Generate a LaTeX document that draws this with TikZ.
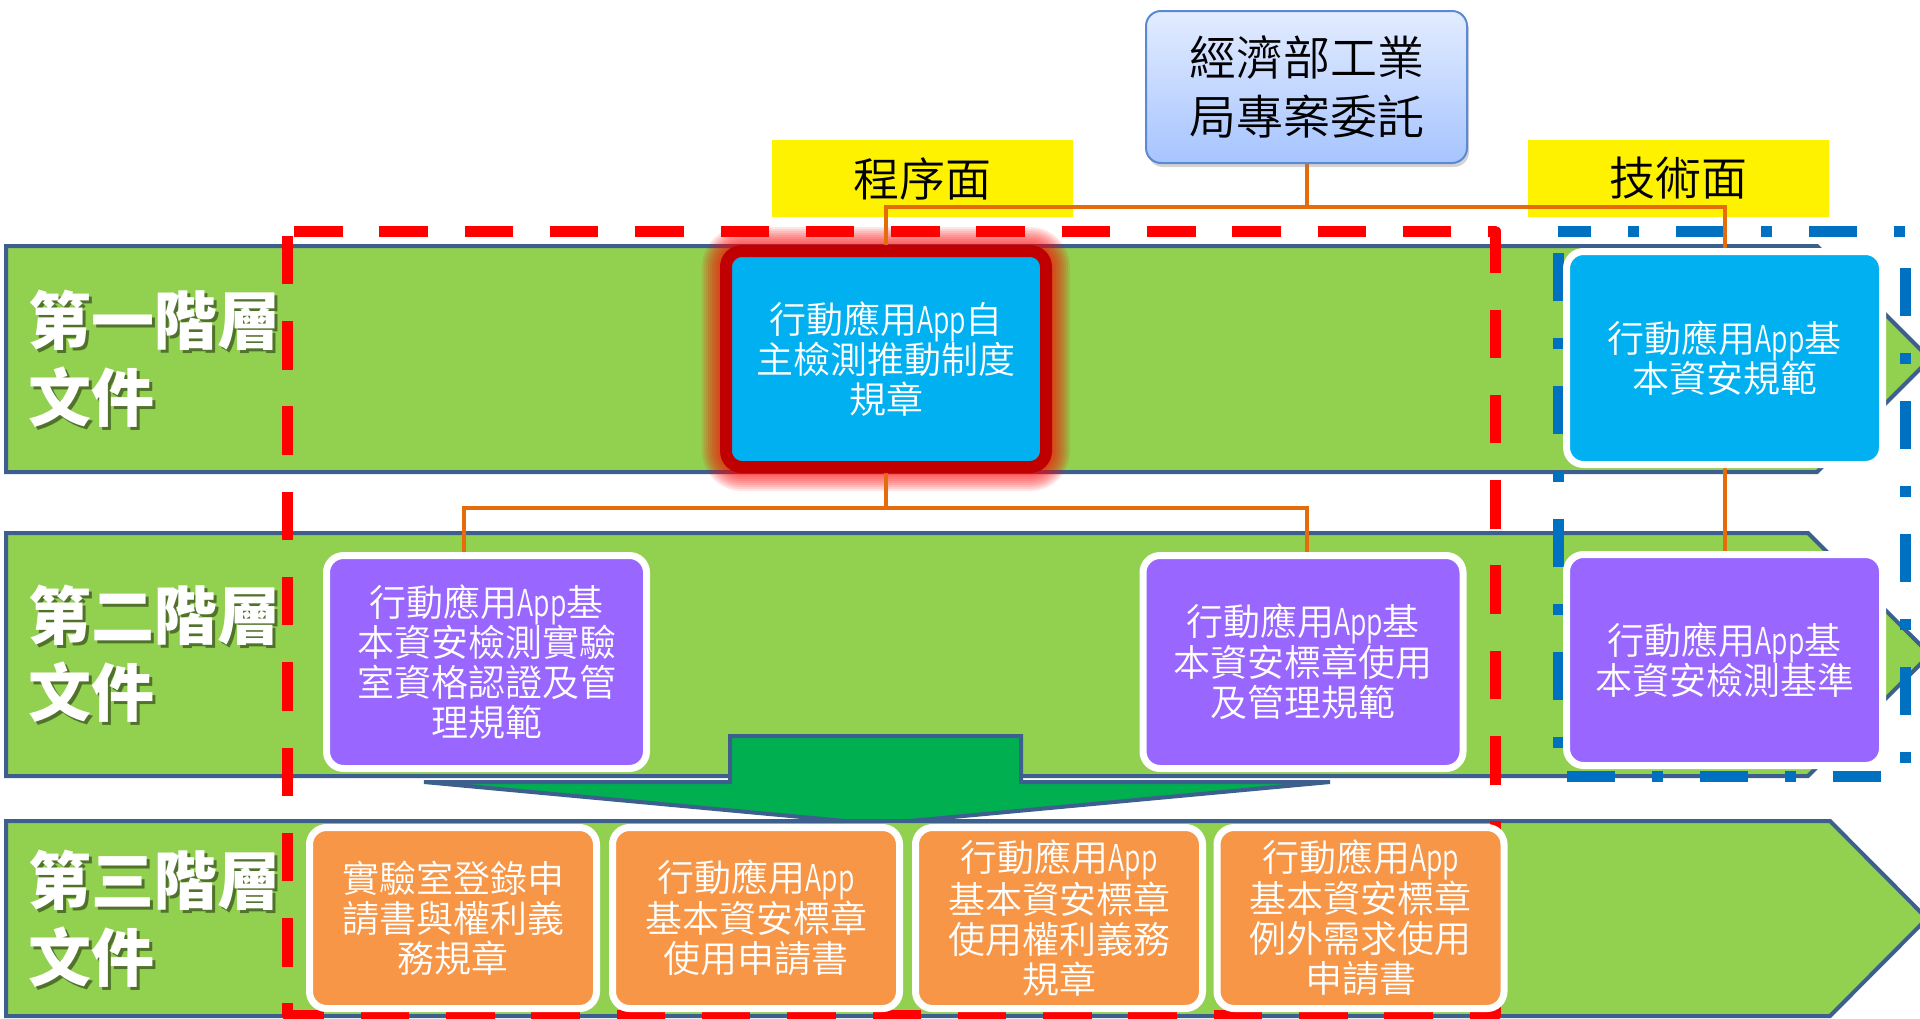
\documentclass[tikz,border=0pt]{standalone}
\usepackage{fontspec}
\usepackage{graphicx}
\setmainfont{Noto Sans CJK TC}
\IfFontExistsTF{Noto Sans CJK TC DemiLight}
  {\newfontfamily\thinfont{Noto Sans CJK TC DemiLight}}
  {\newfontfamily\thinfont{Noto Sans CJK TC}}
\usetikzlibrary{shadows}
\pgfdeclarelayer{back}
\pgfsetlayers{back,main}
\definecolor{bandgreen}{HTML}{92D050}
\definecolor{bandline}{HTML}{3C5F8E}
\definecolor{arrowgreen}{HTML}{00B050}
\definecolor{purp}{HTML}{9966FF}
\definecolor{skyb}{HTML}{00B0F0}
\definecolor{orangebox}{HTML}{F79646}
\definecolor{conncol}{HTML}{E46C0A}
\definecolor{dashred}{HTML}{FF0000}
\definecolor{dashblue}{HTML}{0070C0}
\definecolor{darkred}{HTML}{C00000}
\definecolor{topA}{HTML}{E3ECFF}
\definecolor{topB}{HTML}{A6C4FF}
\definecolor{topline}{HTML}{5B8AD2}
\newcommand\appw{\scalebox{0.72}[1]{App}}
\begin{document}
\begin{tikzpicture}[x=1pt,y=-1pt,
  band/.style={fill=bandgreen, draw=bandline, line width=4pt, line join=miter},
  boxbase/.style={inner sep=0pt, outer sep=0pt, align=center, text=white,
    font=\thinfont\fontsize{37}{40}\selectfont},
  wbox/.style={boxbase, draw=white, line width=7pt, rounded corners=17pt},
  pbox/.style={wbox, fill=purp, minimum width=320pt, minimum height=213pt},
  bbox/.style={wbox, fill=skyb, minimum width=316pt, minimum height=213pt},
  obox/.style={wbox, fill=orangebox, minimum width=287pt, minimum height=181pt},
  rbox/.style={boxbase, draw=darkred, line width=12pt, rounded corners=16pt, fill=skyb,
    minimum width=320pt, minimum height=216pt},
  topbox/.style={inner sep=0pt, outer sep=0pt, align=center, draw=topline, line width=2pt,
    rounded corners=15pt, top color=topA, bottom color=topB,
    minimum width=321pt, minimum height=152pt,
    drop shadow={shadow xshift=2pt, shadow yshift=-4pt, opacity=0.35},
    font=\thinfont\fontsize{47}{59}\selectfont},
  ybox/.style={fill=yellow, inner sep=0pt, minimum width=301pt, minimum height=77pt,
    font=\thinfont\fontsize{46}{50}\selectfont},
  lbl/.style={anchor=west, inner sep=0pt, align=left, text=white,
    font=\bfseries\fontsize{63}{77}\selectfont},
  lblshadow/.style={lbl, text=black, opacity=0.45},
  conn/.style={draw=conncol, line width=4pt},
  reddash/.style={draw=dashred, line width=11pt, line join=round,
    dash pattern=on 48.5pt off 36.8pt, dash phase=78.3pt},
  bluedash/.style={draw=dashblue, line width=11pt, line join=round,
    dash pattern=on 48pt off 37pt on 11pt off 37pt, dash phase=15pt},
  glow/.style={draw=red, opacity=0.1, rounded corners=16pt}
]
\useasboundingbox (0,0) rectangle (1920,1018);

% ---- boxes (main layer) ----
\node[topbox] (T) at (1306.5,87) {經濟部工業\\局專案委託};
\node[rbox] (R) at (886,359) {行動應用\appw 自\\主檢測推動制度\\規章};
\node[bbox] (B1) at (1724.5,358) {行動應用\appw 基\\本資安規範};
\node[pbox] (P1) at (486.5,662) {行動應用\appw 基\\本資安檢測實驗\\室資格認證及管\\理規範};
\node[pbox] (P2) at (1303,662) {行動應用\appw 基\\本資安標章使用\\及管理規範};
\node[bbox, fill=purp, minimum height=211pt] (B2) at (1724.5,660) {行動應用\appw 基\\本資安檢測基準};
\node[obox] (O1) at (453,918) {實驗室登錄申\\請書與權利義\\務規章};
\node[obox] (O2) at (756,918) {行動應用\appw\\基本資安標章\\使用申請書};
\node[obox] (O3) at (1059,918) {行動應用\appw\\基本資安標章\\使用權利義務\\規章};
\node[obox] (O4) at (1360.5,918) {行動應用\appw\\基本資安標章\\例外需求使用\\申請書};

\begin{pgfonlayer}{back}
% bands
\draw[band] (6,246) -- (1817,246) -- (1930,359) -- (1817,472) -- (6,472) -- cycle;
\draw[band] (6,533) -- (1808,533) -- (1930,654.5) -- (1808,776) -- (6,776) -- cycle;
% big down arrow
\draw[band, fill=arrowgreen] (730,736) -- (1021,736) -- (1021,782) -- (1330,782) -- (877,824)
  -- (424,782) -- (730,782) -- cycle;
\draw[band] (6,821) -- (1830,821) -- (1927,918.5) -- (1830,1016) -- (6,1016) -- cycle;
% level labels
\node[lblshadow] (L1s) at (31,362) {第一階層\\文件};
\node[lbl] (L1) at (28,359) {第一階層\\文件};
\node[lblshadow] (L2s) at (31,657) {第二階層\\文件};
\node[lbl] (L2) at (28,654) {第二階層\\文件};
\node[lblshadow] (L3s) at (31,922) {第三階層\\文件};
\node[lbl] (L3) at (28,919) {第三階層\\文件};
% dashed frames
\draw[reddash] (287,231) -- (1495,231) -- (1495,1015) -- (287,1015) -- cycle;
\draw[bluedash] (1558,231) -- (1905,231) -- (1905,776) -- (1558,776) -- cycle;
% glow around the red box
\foreach \w in {16,20,...,48}
  \draw[glow, line width=\w pt] (R.north west) rectangle (R.south east);
% yellow labels
\node[ybox] (Y1) at (922.5,178.5) {程序面};
\node[ybox] (Y2) at (1678.5,178.5) {技術面};
% connectors
\coordinate (busY) at (0,207);
\draw[conn] (T.south) -- (T.south |- busY);
\draw[conn] (R.north) -- (R.north |- busY) -- (B1.north |- busY) -- (B1.north);
\draw[conn] (B1.south) -- (B2.north);
\coordinate (c1) at (464,508);
\coordinate (c2) at (1307,508);
\draw[conn] (R.south) -- (R.south |- c1);
\draw[conn] (c1 |- P1.north) -- (c1) -- (c2) -- (c2 |- P2.north);
\end{pgfonlayer}
\end{tikzpicture}
\end{document}
